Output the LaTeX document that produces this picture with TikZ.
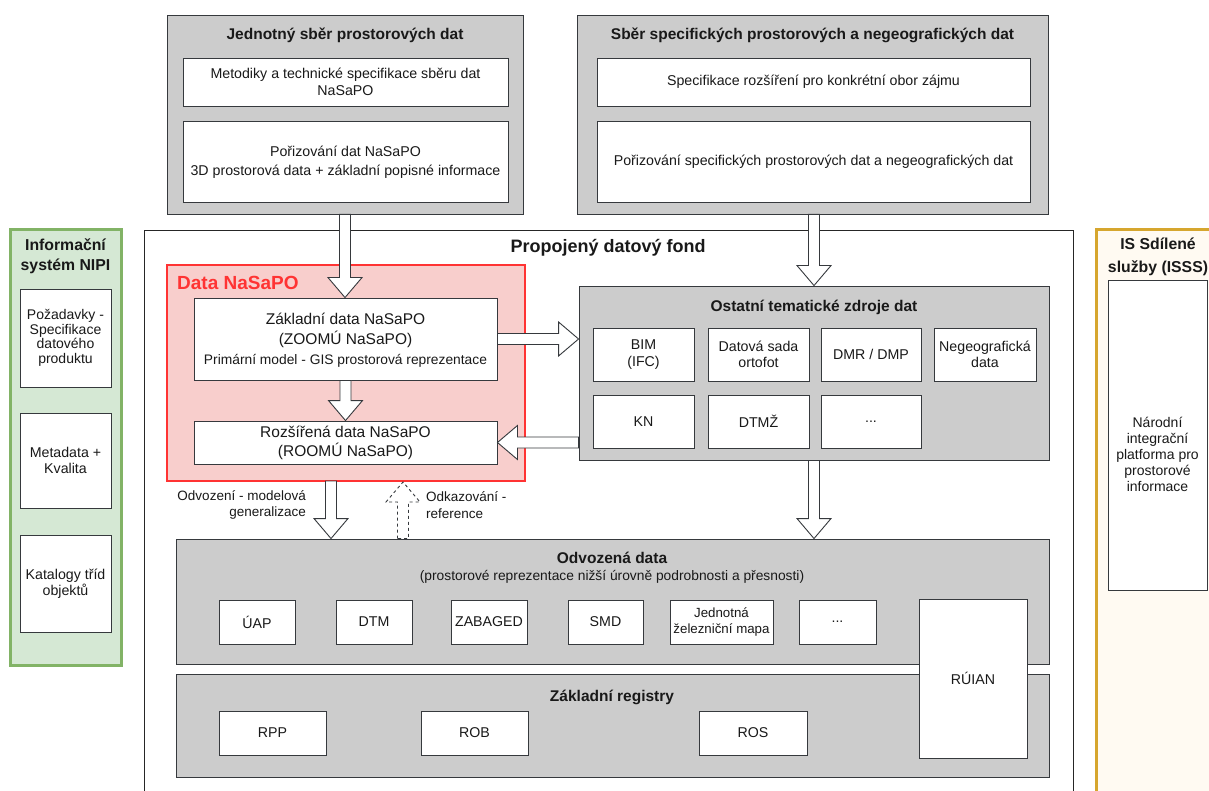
\documentclass[tikz,border=0pt]{standalone}
\usepackage{fontspec}
\setmainfont{Liberation Sans}
\usetikzlibrary{calc}
\definecolor{grayfill}{HTML}{CCCCCC}
\definecolor{graystroke}{HTML}{36393D}
\definecolor{greenfill}{HTML}{D5E8D4}
\definecolor{greenstroke}{HTML}{82B366}
\definecolor{yelfill}{HTML}{FFFAF2}
\definecolor{yelstroke}{HTML}{D6A62E}
\definecolor{redfill}{HTML}{F8CECC}
\definecolor{redstroke}{HTML}{FF3333}
\newcommand\BlkArrow[3][]{%
  \coordinate (BAs) at (#2);
  \coordinate (BAt) at (#3);
  \coordinate (BAh) at ($(BAt)!20pt!(BAs)$);
  \draw[blk,#1] ($(BAs)!5.5pt!90:(BAt)$) -- ($(BAh)!5.5pt!90:(BAt)$) -- ($(BAh)!17pt!90:(BAt)$) -- (BAt)
     -- ($(BAh)!17pt!-90:(BAt)$) -- ($(BAh)!5.5pt!-90:(BAt)$) -- ($(BAs)!5.5pt!-90:(BAt)$) -- cycle;
}
\begin{document}
\begin{tikzpicture}[x=1pt,y=-1pt,
  box/.style={draw=graystroke, fill=white, line width=0.9pt, inner sep=0pt, align=center,
    font=\fontsize{14.2}{16.5}\selectfont, text=black!90},
  panel/.style={draw=graystroke, fill=grayfill, line width=0.9pt, inner sep=0pt},
  ttl/.style={font=\fontsize{15.5}{20}\selectfont\bfseries, align=center, inner sep=0pt, text=black!90},
  txt/.style={font=\fontsize{13.5}{16.5}\selectfont, align=center, inner sep=0pt, text=black!90},
  blk/.style={draw=graystroke, fill=white, line width=0.9pt, line join=miter}]
\useasboundingbox (0,0) rectangle (1209,791);
\clip (0,0) rectangle (1209,791);
\fill[white] (0,0) rectangle (1209,791);

% container
\node[draw=black!85, fill=white, line width=0.9pt, minimum width=929pt, minimum height=580pt, inner sep=0pt] (cont) at (608.5,520) {};
\node[ttl, font=\fontsize{18}{20}\selectfont\bfseries] (conttl) at (608,248) {Propojený datový fond};

% top-left
\node[panel, minimum width=356pt, minimum height=199pt] (tl) at (345,114.5) {};
\node[ttl] (tlttl) at (345,35) {Jednotný sběr prostorových dat};
\node[box, minimum width=325pt, minimum height=48pt] (tl1) at (345.5,82) {Metodiky a technické specifikace sběru dat\\NaSaPO};
\node[box, minimum width=325pt, minimum height=81pt, font=\fontsize{14.2}{19}\selectfont] (tl2) at (345.5,162) {Pořizování dat NaSaPO\\3D prostorová data + základní popisné informace};

% top-right
\node[panel, minimum width=471pt, minimum height=199pt] (tr) at (812.5,114.5) {};
\node[ttl] (trttl) at (812.5,35) {Sběr specifických prostorových a negeografických dat};
\node[box, minimum width=433pt, minimum height=48pt] (tr1) at (813.5,82) {Specifikace rozšíření pro konkrétní obor zájmu};
\node[box, minimum width=433pt, minimum height=81pt] (tr2) at (813.5,161.5) {Pořizování specifických prostorových dat a negeografických dat};

% green panel
\node[draw=greenstroke, fill=greenfill, line width=3pt, minimum width=111pt, minimum height=435pt, inner sep=0pt] (gr) at (65.5,447.5) {};
\node[ttl, font=\fontsize{15.8}{20.5}\selectfont\bfseries] (grttl) at (65.5,256) {Informační\\systém NIPI};
\node[box, minimum width=91pt, minimum height=98pt, font=\fontsize{14}{14.5}\selectfont] (g1) at (65.5,338) {Požadavky -\\Specifikace\\datového\\produktu};
\node[box, minimum width=91pt, minimum height=95pt] (g2) at (65.5,460.5) {Metadata +\\Kvalita};
\node[box, minimum width=91pt, minimum height=97pt] (g3) at (65.5,583.5) {Katalogy tříd\\objektů};

% yellow panel
\node[draw=yelstroke, fill=yelfill, line width=3pt, minimum width=124pt, minimum height=580pt, inner sep=0pt] (ye) at (1158,520) {};
\node[ttl, font=\fontsize{15.8}{22.5}\selectfont\bfseries] (yettl) at (1158,257) {IS Sdílené\\služby (ISSS)};
\node[box, minimum width=99pt, minimum height=310pt] (y1) at (1157.5,435) {};
\node[txt, font=\fontsize{14}{16}\selectfont] (y1txt) at (1157.5,454) {Národní\\integrační\\platforma pro\\prostorové\\informace};

% red Data NaSaPO
\node[draw=redstroke, fill=redfill, line width=2.5pt, minimum width=358pt, minimum height=216pt, inner sep=0pt] (red) at (346,373) {};
\node[anchor=west, inner sep=0pt, text=redstroke, font=\fontsize{19}{22}\selectfont\bfseries] (redttl) at (177,283) {Data NaSaPO};
\node[box, minimum width=303pt, minimum height=82pt, font=\fontsize{15.5}{20}\selectfont] (zak) at (345.5,339) {\rule{0pt}{14pt}Základní data NaSaPO\\(ZOOMÚ NaSaPO)\\{\fontsize{13.8}{16}\selectfont Primární model - GIS prostorová reprezentace}};
\node[box, minimum width=303pt, minimum height=43pt, font=\fontsize{15.5}{19}\selectfont] (roz) at (345.5,442.5) {Rozšířená data NaSaPO\\(ROOMÚ NaSaPO)};

% Ostatni
\node[panel, minimum width=470pt, minimum height=174pt] (ost) at (814,373) {};
\node[ttl] (ostttl) at (814,307) {Ostatní tematické zdroje dat};
\node[box, minimum width=101pt, minimum height=53pt] (o1) at (643.5,354.5) {BIM\\(IFC)};
\node[box, minimum width=101pt, minimum height=53pt] (o2) at (758.5,354.5) {Datová sada\\ortofot};
\node[box, minimum width=100pt, minimum height=53pt] (o3) at (871,354.5) {DMR / DMP};
\node[box, minimum width=102pt, minimum height=53pt] (o4) at (985,354.5) {Negeografická\\data};
\node[box, minimum width=101pt, minimum height=53pt] (o5) at (643.5,421.5) {KN};
\node[box, minimum width=101pt, minimum height=53pt] (o6) at (758.5,421.5) {DTMŽ};
\node[box, minimum width=100pt, minimum height=53pt] (o7) at (871,421.5) {...};

% Odvozena data
\node[panel, minimum width=873pt, minimum height=125pt] (odv) at (612.5,601.5) {};
\node[ttl] (odvttl) at (612,558) {Odvozená data};
\node[txt, font=\fontsize{13.8}{16}\selectfont] (odvsub) at (612,577) {(prostorové reprezentace nižší úrovně podrobnosti a přesnosti)};
\node[box, minimum width=76pt, minimum height=44pt] (d1) at (257,622) {ÚAP};
\node[box, minimum width=76pt, minimum height=44pt] (d2) at (374,622) {DTM};
\node[box, minimum width=76pt, minimum height=44pt] (d3) at (489,622) {ZABAGED};
\node[box, minimum width=75pt, minimum height=44pt] (d4) at (605.5,622) {SMD};
\node[box, minimum width=103pt, minimum height=44pt, font=\fontsize{13.3}{16}\selectfont] (d5) at (721.5,622) {Jednotná\\železniční mapa};
\node[box, minimum width=77pt, minimum height=44pt] (d6) at (837.5,622) {...};

% Zakladni registry
\node[panel, minimum width=873pt, minimum height=103pt] (zr) at (612.5,725.5) {};
\node[ttl] (zrttl) at (612,697) {Základní registry};
\node[box, minimum width=107pt, minimum height=44pt] (r1) at (272.5,733) {RPP};
\node[box, minimum width=107pt, minimum height=44pt] (r2) at (474.5,733) {ROB};
\node[box, minimum width=108pt, minimum height=44pt] (r3) at (753,733) {ROS};
\node[box, minimum width=108pt, minimum height=159pt] (ruian) at (973,678.5) {RÚIAN};

% arrows
\BlkArrow{tl.south}{tl.south |- zak.north}
\BlkArrow{zak.south}{zak.south |- roz.north}
\BlkArrow{zak.east}{zak.east -| ost.west}
\BlkArrow{roz.east -| ost.west}{roz.east}
\BlkArrow{ost.north |- tr.south}{ost.north}
\BlkArrow{ost.south}{ost.south |- odv.north}
\coordinate (odvS) at (331,481);
\coordinate (refS) at (403,482);
\BlkArrow{odvS}{odvS |- odv.north}
\BlkArrow[dashed]{refS |- odv.north}{refS}

% arrow labels
\node[txt, anchor=east, align=right] (lodv) at (306,505) {Odvození - modelová\\generalizace};
\node[txt, anchor=west, align=left] (lref) at (426,505) {Odkazování -\\reference};
\end{tikzpicture}
\end{document}
